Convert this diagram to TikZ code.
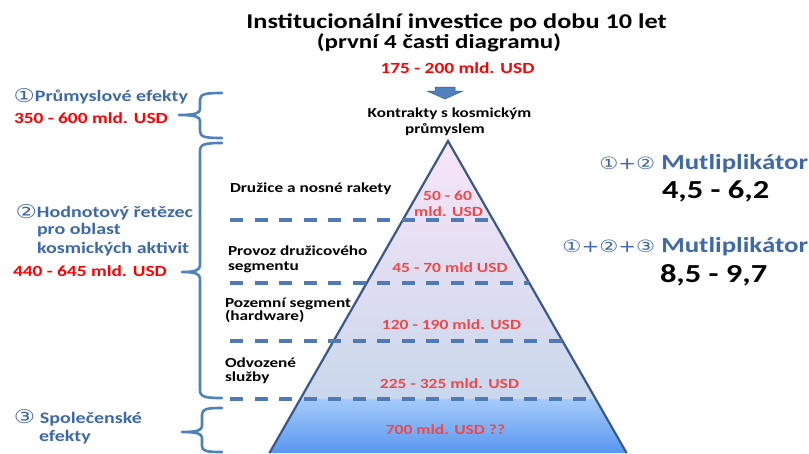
\documentclass[tikz,border=0pt]{standalone}
\usepackage{fontspec}
\usepackage{graphicx}
\setmainfont{Carlito}
\newfontfamily\symf{DejaVu Sans}
\newcommand{\hs}[1]{\scalebox{1.25}[1]{#1}}
\newcommand{\cd}[2]{{\symf\mdseries\fontsize{#1}{#1}\selectfont #2}}
\newcommand{\cdl}[1]{\raisebox{-1.5pt}{\cd{19}{#1}}}
\definecolor{txtblue}{RGB}{62,104,170}
\definecolor{brblue}{RGB}{79,129,189}
\definecolor{dashblue}{RGB}{80,122,182}
\definecolor{pyrline}{RGB}{58,88,138}
\definecolor{redA}{RGB}{255,0,0}
\definecolor{redB}{RGB}{238,72,72}
\definecolor{pyrtop}{RGB}{249,229,248}
\definecolor{pyrmid}{RGB}{201,215,236}
\definecolor{basetop}{RGB}{165,203,250}
\definecolor{basebot}{RGB}{88,150,240}
\begin{document}
\begin{tikzpicture}[x=1pt,y=-1pt,
  every node/.style={inner sep=0pt,outer sep=0pt},
  fs/.style={font=\bfseries\fontsize{#1}{#1}\selectfont},
  lbl/.style={fs=13.8,text=black,anchor=base west},
  pval/.style={fs=14,text=redB,anchor=base},
  bluet/.style={fs=16,text=txtblue,anchor=base west},
  redt/.style={fs=15.5,text=redA,anchor=base west},
  brace/.style={draw=brblue,line width=2.6pt,line cap=round,line join=round},
  dashl/.style={draw=dashblue,line width=3.1pt,dash pattern=on 13pt off 11.5pt}]
\useasboundingbox (0,0) rectangle (809,453);

% pyramid
\coordinate (apex) at (448,141);
\coordinate (ul) at (300.3,399);
\coordinate (ur) at (595.7,399);
\coordinate (bl) at (269.4,453);
\coordinate (br) at (626.6,453);
\shade[top color=pyrtop,bottom color=pyrmid] (apex) -- (ur) -- (ul) -- cycle;
\shade[top color=basetop,bottom color=basebot] (ul) -- (ur) -- (br) -- (bl) -- cycle;
\draw[pyrline,line width=2.2pt,line join=miter] (bl) -- (apex) -- (br);

% dashed lines
\coordinate (d1a) at (230,220); \coordinate (d1b) at (493.2,220);
\coordinate (d2a) at (230,283); \coordinate (d2b) at (529.3,283);
\coordinate (d3a) at (230,341); \coordinate (d3b) at (562.5,341);
\coordinate (d4a) at (230,399); \coordinate (d4b) at (595.7,399);
\draw[dashl] (d1a) -- (d1b);
\draw[dashl] (d2a) -- (d2b);
\draw[dashl] (d3a) -- (d3b);
\draw[dashl] (d4a) -- (d4b);

% arrow
\fill[brblue,draw=pyrline,line width=0.5pt] (435,87) -- (455,87) -- (455,91) -- (463,91) -- (445,99) -- (427,91) -- (435,91) -- cycle;

% braces
\draw[brace] (222,93) .. controls (205,93) and (200,94) .. (200,100) -- (200,109) .. controls (200,113) and (196,115) .. (179,115) .. controls (196,115) and (200,117) .. (200,121) -- (200,131) .. controls (200,137) and (205,138) .. (222,138);
\draw[brace] (222,143) .. controls (205,143) and (200,144) .. (200,151) -- (200,265) .. controls (200,270) and (196,272) .. (182,272) .. controls (196,272) and (200,274) .. (200,279) -- (200,390) .. controls (200,397) and (205,398) .. (222,398);
\draw[brace] (222,408) .. controls (206,408) and (202,409) .. (202,415) -- (202,426) .. controls (202,430) and (198,432) .. (182,432) .. controls (198,432) and (202,434) .. (202,438) -- (202,446) .. controls (202,451) and (206,452) .. (222,452);

% title
\node[fs=21,anchor=base] (t1) at (456.5,28) {\hs{Institucionální investice po dobu 10 let}};
\node[fs=20,anchor=base] (t2) at (439,48.5) {\hs{(první 4 časti diagramu)}};
\node[fs=15.5,text=redA,anchor=base] (t3) at (457.5,73) {\hs{175 - 200 mld. USD}};
\node[fs=13.7,anchor=base] (k1) at (449.5,117) {\hs{Kontrakty s kosmickým}};
\node[fs=13.7,anchor=base] (k2) at (445,133) {\hs{průmyslem}};

% left texts
\node[bluet,anchor=base east] (l1) at (188,101) {\hs{\cdl{①}Průmyslové efekty}};
\node[redt] (l1v) at (14,123) {\hs{350 - 600 mld. USD}};
\node[bluet,anchor=base east] (l2a) at (193,217) {\hs{\cdl{②}Hodnotový řetězec}};
\node[bluet] (l2b) at (37,234) {\hs{pro oblast}};
\node[bluet] (l2c) at (37,253) {\hs{kosmických aktivit}};
\node[redt] (l2v) at (13,276) {\hs{440 - 645 mld. USD}};
\node[bluet,anchor=base east] (l3a) at (142,423) {\hs{\cd{19}{③} Společenské}};
\node[bluet] (l3b) at (39,441) {\hs{efekty}};

% right texts
\node[fs=21.5,text=txtblue,anchor=base east] (r1) at (808,169) {\hs{\cd{17}{①+②} Mutliplikátor}};
\node[fs=26,anchor=base west] (r1v) at (662,198) {\hs{4,5 - 6,2}};
\node[fs=21.5,text=txtblue,anchor=base east] (r2) at (808,252) {\hs{\cd{17}{①+②+③} Mutliplikátor}};
\node[fs=26,anchor=base west] (r2v) at (660,282) {\hs{8,5 - 9,7}};

% pyramid labels
\node[lbl] (p1) at (230,192) {\hs{Družice a nosné rakety}};
\node[lbl] (p2a) at (228,255) {\hs{Provoz družicového}};
\node[lbl] (p2b) at (228,270) {\hs{segmentu}};
\node[lbl] (p3a) at (225,307) {\hs{Pozemní segment}};
\node[lbl] (p3b) at (225,320) {\hs{(hardware)}};
\node[lbl] (p4a) at (225,367) {\hs{Odvozené}};
\node[lbl] (p4b) at (225,381) {\hs{služby}};

\node[pval] (v1a) at (447.5,200) {\hs{50 - 60}};
\node[pval] (v1b) at (448.5,216) {\hs{mld. USD}};
\node[pval] (v2) at (450,272) {\hs{45 - 70 mld USD}};
\node[pval] (v3) at (451.5,329) {\hs{120 - 190 mld. USD}};
\node[pval] (v4) at (449.5,388) {\hs{225 - 325 mld. USD}};
\node[pval] (v5) at (445.5,434) {\hs{700 mld. USD ??}};
\end{tikzpicture}
\end{document}
